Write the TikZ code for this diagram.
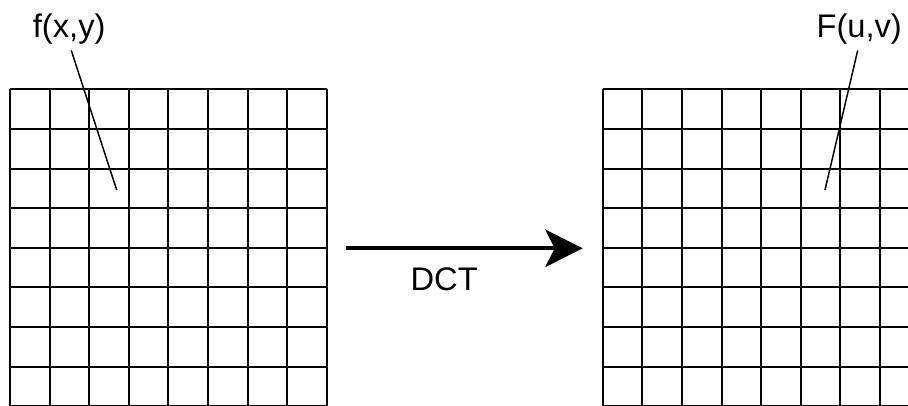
\documentclass[tikz,border=0pt]{standalone}
\usepackage{fontspec}
\setmainfont{Liberation Sans}
\usetikzlibrary{arrows.meta}

\tikzset{
  blockgrid/.style={line width=1.5pt},
  leader/.style={line width=1.1pt, shorten <=5pt},
  lbl/.style={inner sep=0pt, anchor=base, font=\fontsize{24.5}{29}\selectfont},
}

\begin{document}
\begin{tikzpicture}[x=0.75pt, y=-0.75pt]
\useasboundingbox (0,0) rectangle (908,405);

% 8x8 block of samples, and its transform
\foreach \left in {10,602.7}{
  \foreach \i in {0,...,8}{
    \draw[blockgrid] ({\left+39.6*\i},89.3) -- ++(0,316.8);
    \draw[blockgrid] (\left,{89.3+39.6*\i}) -- ++(316.8,0);
  }
}

\node[lbl] (fxy) at (69.2,37) {f(x,y)};
\node[lbl] (Fuv) at (859.2,37) {F(u,v)};
\coordinate (pxy) at (116.7,190);
\coordinate (puv) at (825,190);
\draw[leader] (fxy.south) -- (pxy);
\draw[leader] (Fuv.south) -- (puv);

% the transform itself
\coordinate (from) at (346,248.3);
\coordinate (to) at (582.7,248.3);
\draw[line width=3pt, -{Stealth[length=28pt, width=28pt, inset=7pt]}] (from) -- (to);
\node[lbl] (dct) at (444.2,290.7) {DCT};
\end{tikzpicture}
\end{document}
